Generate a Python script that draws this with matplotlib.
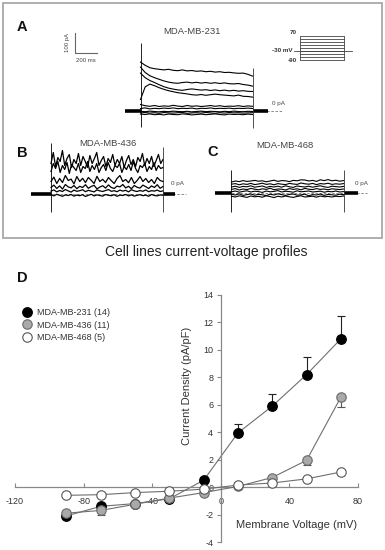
import numpy as np
import matplotlib
matplotlib.use("Agg")
import matplotlib.pyplot as plt
from matplotlib.lines import Line2D
from matplotlib.patches import Rectangle

plt.rcParams['font.family'] = ['Liberation Sans', 'DejaVu Sans']
plt.rcParams['axes.unicode_minus'] = False

W, H = 385, 550

# ---------------- Panel D data ----------------
voltage_mV = [-90, -70, -50, -30, -10, 10, 30, 50, 70]
mb231 = [-2.1, -1.4, -1.2, -0.85, 0.5, 3.95, 5.9, 8.2, 10.8]
mb231_err_up = [0.0, 0.0, 0.0, 0.0, 0.0, 0.65, 0.9, 1.3, 1.7]
mb436 = [-1.9, -1.7, -1.25, -0.8, -0.4, 0.05, 0.7, 1.95, 6.55]
mb436_err_down = [0.1, 0.3, 0.2, 0.0, 0.0, 0.0, 0.0, 0.35, 0.7]
mb468 = [-0.6, -0.55, -0.4, -0.3, -0.15, 0.15, 0.3, 0.6, 1.1]
legend_labels = ['MDA-MB-231 (14)', 'MDA-MB-436 (11)', 'MDA-MB-468 (5)']
x_ticks = [-120, -80, -40, 0, 40, 80]
y_ticks = [-4, -2, 0, 2, 4, 6, 8, 10, 12, 14]

# ---------------- Current traces (pA) during 1000 ms step ----------------
STEP_MS = 1000
A_trace1 = [242, 226, 214, 209, 206, 203, 206, 201, 199, 203, 198, 200, 196, 198, 194, 196, 192, 194, 190, 191, 188, 186, 187, 181, 172]
A_trace2 = [217, 190, 174, 164, 156, 148, 142, 138, 136, 140, 142, 138, 141, 137, 140, 136, 139, 135, 138, 134, 133, 135, 130, 127, 122]
A_trace3 = [187, 164, 150, 140, 129, 119, 112, 107, 103, 101, 105, 108, 105, 102, 104, 100, 103, 99, 102, 98, 101, 97, 99, 96, 95]
A_trace4 = [55, 118, 132, 124, 114, 106, 99, 94, 89, 86, 83, 79, 77, 80, 76, 79, 82, 79, 77, 75, 73, 77, 71, 70, 67]
A_trace5 = [30, 24, 21, 25, 20, 23, 21, 26, 22, 20, 25, 21, 23, 20, 22, 25, 21, 24, 20, 22, 21, 24, 20, 23, 21]
A_trace6 = [10, 13, 8, 11, 9, 12, 10, 13, 9, 11, 10, 12, 8, 11, 10, 13, 9, 11, 10, 12, 9, 11, 10, 12, 10]
A_trace7 = [-4, -6, -3, -5, -7, -4, -6, -3, -5, -6, -4, -7, -5, -3, -6, -4, -5, -7, -4, -6, -3, -5, -6, -4, -5]
A_trace8 = [-12, -10, -13, -11, -14, -10, -12, -13, -11, -10, -14, -12, -11, -13, -10, -12, -14, -11, -13, -10, -12, -11, -13, -12, -11]
A_trace9 = [-18, -20, -17, -21, -19, -22, -18, -20, -21, -17, -19, -22, -20, -18, -21, -19, -17, -20, -22, -18, -20, -19, -21, -18, -20]

B_trace1 = [150, 205, 135, 180, 160, 215, 140, 175, 195, 130, 170, 150, 200, 140, 185, 160, 130, 190, 150, 175,
            205, 140, 165, 185, 135, 175, 155, 195, 140, 170, 150, 185, 130, 165, 190, 145, 170, 135, 180, 160,
            200, 140, 175, 150, 185, 135, 165, 195, 150, 170]
B_trace2 = [110, 150, 125, 160, 105, 140, 120, 155, 100, 145, 130, 115, 150, 105, 135, 125, 160, 110, 140, 120,
            150, 105, 130, 145, 115, 155, 125, 110, 140, 130, 150, 105, 135, 120, 145, 115, 160, 125, 105, 140,
            130, 150, 110, 135, 120, 155, 115, 140, 125, 130]
B_trace3 = [60, 82, 50, 75, 55, 90, 65, 72, 48, 85, 60, 76, 55, 80, 66, 50, 86, 60, 71, 55, 80, 64, 50, 75, 90,
            60, 70, 54, 80, 50, 65, 85, 60, 75, 55, 70, 50, 80, 65, 60]
B_trace4 = [30, 42, 25, 38, 22, 45, 33, 28, 40, 24, 36, 30, 44, 26, 35, 41, 23, 32, 39, 27, 43, 30, 25, 37, 33,
            45, 28, 36, 24, 40, 31, 27, 42, 34, 25, 38, 30, 44, 26, 35]
B_trace5 = [12, 18, 8, 15, 10, 20, 13, 7, 17, 11, 14, 19, 9, 16, 12, 8, 18, 13, 10, 15, 20, 11, 14, 9, 17,
            12, 16, 8, 19, 13, 10, 15, 11, 18, 9, 14, 12, 17, 10, 13]
B_trace6 = [-6, -12, -4, -9, -14, -7, -10, -5, -13, -8, -11, -6, -15, -9, -4, -12, -7, -10, -13, -5, -9, -11, -6, -14, -8,
            -10, -5, -12, -7, -13, -9, -6, -11, -8, -14, -5, -10, -12, -7, -9]

C_trace1 = [55, 60, 57, 62, 58, 60, 63, 59, 61, 56, 60, 64, 58, 62, 61, 57, 63, 61, 66, 65, 60, 63, 58, 66, 62,
            67, 61, 64, 59, 62]
C_trace2 = [44, 47, 41, 46, 43, 48, 42, 45, 49, 43, 46, 41, 47, 44, 42, 48, 45, 43, 50, 46, 44, 48, 42, 47, 45,
            49, 43, 46, 44, 47]
C_trace3 = [30, 34, 28, 33, 31, 36, 29, 32, 35, 28, 33, 30, 34, 29, 36, 31, 28, 35, 32, 30, 34, 29, 33, 36, 31,
            28, 34, 32, 30, 33]
C_trace4 = [18, 22, 15, 20, 17, 23, 19, 16, 21, 18, 24, 16, 20, 19, 15, 22, 18, 21, 16, 23, 19, 17, 22, 18, 20,
            16, 21, 19, 17, 20]
C_trace5 = [6, 10, 4, 8, 11, 5, 9, 7, 3, 10, 6, 8, 12, 5, 9, 7, 4, 11, 6, 8, 10, 5, 7, 9, 4, 8, 6, 10, 5, 7]
C_trace6 = [-6, -10, -4, -12, -8, -5, -11, -7, -9, -13, -6, -10, -4, -8, -12, -7, -5, -11, -9, -6, -14, -8, -10, -5,
            -12, -7, -9, -11, -6, -8]
C_trace7 = [-16, -20, -14, -18, -22, -15, -19, -17, -21, -14, -18, -23, -16, -20, -15, -19, -22, -17, -14, -20, -18,
            -16, -21, -15, -19, -17, -20, -16, -18, -15]

# holding segments (ms before / after step), transients (pA min, max), dashed zero line extent (ms)
A_hold = (138, 138); A_on = (-82, 337); A_off = (-87, 212); A_dash = (-140, 1265)
B_hold = (178, 110); B_on = (-92, 252); B_off = (-92, 232); B_dash = (-178, 1205)
C_hold = (147, 129); C_on = (-95, 115); C_off = (-95, 115); C_dash = (-147, 1210)

# voltage protocol
protocol_levels_mV = [-90, -70, -50, -30, -10, 10, 30, 50, 70]
holding_mV = -30

fig = plt.figure(figsize=(W / 100, H / 100), dpi=100)
fig.patch.set_facecolor('white')

PX_MS = 0.112
PX_PA = 0.2


def px_axes(box):
    x0, x1, y0, y1 = box
    return fig.add_axes([x0 / W, 1 - y1 / H, (x1 - x0) / W, (y1 - y0) / H])


def trace_axes(box, origin, px_x=PX_MS, px_y=PX_PA):
    x0, x1, y0, y1 = box
    ox, oy = origin
    ax = px_axes(box)
    ax.set_xlim((x0 - ox) / px_x, (x1 - ox) / px_x)
    ax.set_ylim((oy - y1) / px_y, (oy - y0) / px_y)
    ax.axis('off')
    return ax


def draw_panel(ax, traces, hold, on, off, dash, lw=0.7):
    ax.plot(dash, [0, 0], color='#777777', lw=0.6, ls=(0, (3, 2)), zorder=1)
    for tr in traces:
        t = np.linspace(0, STEP_MS, len(tr))
        ax.plot(t, tr, color='black', lw=lw, zorder=2)
    ax.plot([-hold[0], 0], [0, 0], color='black', lw=2.6, solid_capstyle='butt', zorder=2)
    ax.plot([STEP_MS, STEP_MS + hold[1]], [0, 0], color='black', lw=2.6, solid_capstyle='butt', zorder=2)
    ax.vlines([0], on[0], on[1], color='black', lw=0.6, zorder=2)
    ax.vlines([STEP_MS], off[0], off[1], color='#333333', lw=0.6, zorder=2)


def ftext(x, y, s, **kw):
    fig.text(x / W, 1 - y / H, s, ha=kw.pop('ha', 'center'), va=kw.pop('va', 'center'), **kw)


# outer box
fig.patches.append(Rectangle((3 / W, 1 - 238 / H), 379 / W, 235 / H, transform=fig.transFigure,
                             fill=False, ec='#a8a8a8', lw=1.3))

# Panel A
axA = trace_axes((60, 300, 25, 135), (140.5, 110.5))
draw_panel(axA, [A_trace1, A_trace2, A_trace3, A_trace4, A_trace5, A_trace6, A_trace7, A_trace8, A_trace9],
           A_hold, A_on, A_off, A_dash, lw=0.8)
# scale bar (100 pA, 200 ms)
sb_t = (75 - 140.5) / PX_MS
sb_i = (110.5 - 53) / PX_PA
axA.plot([sb_t, sb_t, sb_t + 200], [sb_i + 100, sb_i, sb_i], color='#666666', lw=0.8)
ftext(68, 42, '100 pA', rotation=90, fontsize=4.3, color='#444444')
ftext(86, 61, '200 ms', fontsize=4.3, color='#444444')

# voltage protocol inset
axP = trace_axes((270, 360, 28, 66), (300, 51), px_x=0.044, px_y=0.15)
axP.set_ylim(axP.get_ylim()[0] + holding_mV, axP.get_ylim()[1] + holding_mV)
for lv in protocol_levels_mV:
    axP.plot([0, STEP_MS], [lv, lv], color='#444444', lw=0.6)
axP.vlines([0, STEP_MS], min(protocol_levels_mV), max(protocol_levels_mV), color='#444444', lw=0.6)
axP.plot([-136, 1182], [holding_mV, holding_mV], color='#444444', lw=0.6)
ftext(297, 32, '70', fontsize=4.5, fontweight='bold', ha='right', color='#333333')
ftext(292, 50, '-30 mV', fontsize=4.5, fontweight='bold', ha='right', color='#333333')
ftext(297, 60, '-90', fontsize=4.5, fontweight='bold', ha='right', color='#333333')

# Panel B
axB = trace_axes((25, 200, 135, 215), (51, 193.5))
draw_panel(axB, [B_trace1, B_trace2, B_trace3, B_trace4, B_trace5, B_trace6], B_hold, B_on, B_off, B_dash,
           lw=0.9)
# Panel C
axC = trace_axes((205, 375, 140, 215), (231.5, 193))
draw_panel(axC, [C_trace1, C_trace2, C_trace3, C_trace4, C_trace5, C_trace6, C_trace7],
           C_hold, C_on, C_off, C_dash, lw=0.8)

# panel texts
for x, y, s in [(22, 27, 'A'), (22, 153, 'B'), (213, 152, 'C'), (22, 278, 'D')]:
    ftext(x, y, s, fontsize=10.5, fontweight='bold', color='#111111')
ftext(192, 31, 'MDA-MB-231', fontsize=6.8, color='#444444')
ftext(108, 143, 'MDA-MB-436', fontsize=6.8, color='#444444')
ftext(285, 146, 'MDA-MB-468', fontsize=6.8, color='#444444')
for x, y in [(278, 103), (177, 184), (361, 184)]:
    ftext(x, y, '0 pA', fontsize=4.5, color='#444444')
ftext(206, 252, 'Cell lines current-voltage profiles', fontsize=10, color='#222222')

# ---------------- Panel D ----------------
ax = fig.add_axes([15 / W, 8 / H, 343 / W, 247 / H])
ax.set_xlim(-120, 80)
ax.set_ylim(-4, 14)
ax.spines['left'].set_position(('data', 0))
ax.spines['bottom'].set_position(('data', 0))
for s in ['top', 'right']:
    ax.spines[s].set_visible(False)
for s in ['left', 'bottom']:
    ax.spines[s].set_color('#888888')
    ax.spines[s].set_linewidth(0.9)
ax.set_xticks(x_ticks)
ax.set_yticks(y_ticks)
ax.tick_params(axis='x', direction='in', length=3, width=0.8, color='#888888', pad=7,
               labelsize=6.5, labelcolor='#333333')
ax.tick_params(axis='y', direction='out', length=3, width=0.8, color='#888888', pad=2.5,
               labelsize=6.5, labelcolor='#333333')
ax.patch.set_alpha(0)

MS = 6.8
line_c = '#6f6f6f'
ax.plot(voltage_mV, mb231, color=line_c, lw=0.8, zorder=2)
ax.errorbar(voltage_mV, mb231, yerr=[np.zeros(len(mb231)), mb231_err_up], fmt='none',
            ecolor='#222222', elinewidth=0.8, capsize=3, capthick=0.8, zorder=2)
ax.plot(voltage_mV, mb231, ls='none', marker='o', ms=MS, mfc='black', mec='black', zorder=3)

ax.plot(voltage_mV, mb436, color=line_c, lw=0.8, zorder=4)
ax.errorbar(voltage_mV, mb436, yerr=[mb436_err_down, np.zeros(len(mb436))], fmt='none',
            ecolor='#555555', elinewidth=0.8, capsize=3, capthick=0.8, zorder=4)
ax.plot(voltage_mV, mb436, ls='none', marker='o', ms=MS, mfc='#a9a9a9', mec='#6a6a6a', mew=0.8, zorder=5)

ax.plot(voltage_mV, mb468, color=line_c, lw=0.8, zorder=6)
ax.plot(voltage_mV, mb468, ls='none', marker='o', ms=MS, mfc='white', mec='#555555', mew=0.8, zorder=7)

ax.set_ylabel('Current Density (pA/pF)', fontsize=8, color='#333333')
ax.yaxis.set_label_coords((192 - 15) / 343, (542 - 386) / 247)
ax.set_xlabel('Membrane Voltage (mV)', fontsize=8, color='#333333')
ax.xaxis.set_label_coords((297 - 15) / 343, (542 - 520) / 247)

handles = [Line2D([], [], ls='none', marker='o', ms=MS, mfc='black', mec='black'),
           Line2D([], [], ls='none', marker='o', ms=MS, mfc='#a9a9a9', mec='#6a6a6a', mew=0.8),
           Line2D([], [], ls='none', marker='o', ms=MS, mfc='white', mec='#555555', mew=0.8)]
fig.legend(handles, legend_labels, loc='upper left', bbox_to_anchor=(22 / W, 1 - 308 / H),
           frameon=False, fontsize=6.5, handletextpad=0.7, labelspacing=0.4, handlelength=1.0,
           borderaxespad=0, borderpad=0, labelcolor='#333333')

fig.savefig('out.png', dpi=100)
